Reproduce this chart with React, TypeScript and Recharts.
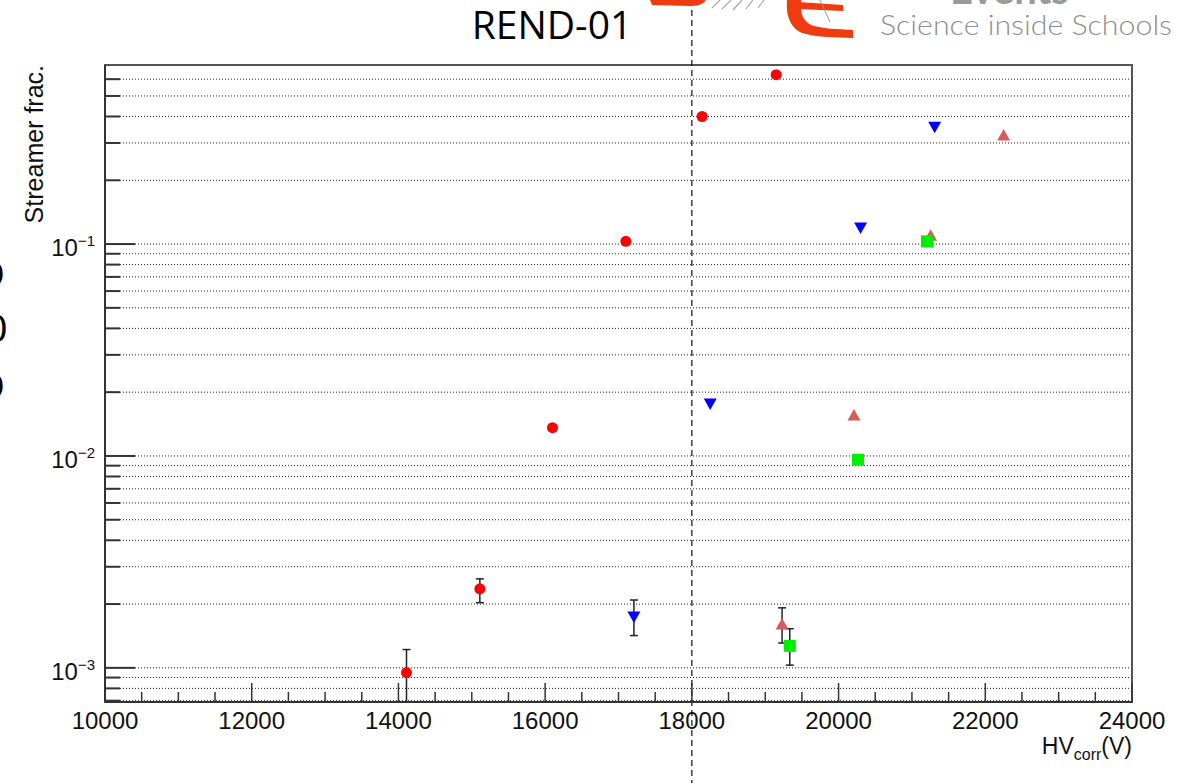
import React from "react";
import {
  CartesianGrid,
  ErrorBar,
  ReferenceArea,
  ReferenceLine,
  Scatter,
  ScatterChart,
  XAxis,
  YAxis,
} from "recharts";

// Streamer fraction vs corrected HV, one series per gas mixture / run
const redX = [14110, 15110, 16100, 17100, 18140, 19150];
const redY = [0.00095, 0.00236, 0.0136, 0.103, 0.4, 0.63];
const redErr: ([number, number] | null)[] = [
  [0.00026, 0.00027],
  [0.00033, 0.00027],
  null,
  null,
  null,
  null,
];

const blueX = [17210, 18250, 20300, 21310];
const blueY = [0.00174, 0.0176, 0.119, 0.356];
const blueErr: ([number, number] | null)[] = [[0.00032, 0.00035], null, null, null];

const triX = [19230, 20210, 21255, 22250];
const triY = [0.00161, 0.0156, 0.11, 0.327];
const triErr: ([number, number] | null)[] = [[0.0003, 0.00031], null, null, null];

const greenX = [19335, 20265, 21205];
const greenY = [0.00127, 0.0096, 0.103];
const greenErr: ([number, number] | null)[] = [[0.00024, 0.00026], [0.0004, 0.0003], null];

const xMajor = [10000, 12000, 14000, 16000, 18000, 20000, 22000, 24000];
const xDomain: [number, number] = [10000, 24000];
const yDomain: [number, number] = [0.00069, 0.7];
const decades = [0.0001, 0.001, 0.01, 0.1];
const markerLine = 18000;

const W = 1190;
const H = 783;

const xTicks: number[] = [];
for (let v = xDomain[0]; v <= xDomain[1]; v += 500) xTicks.push(v);

const yTicks: number[] = [];
decades.forEach((d) => {
  for (let m = 1; m <= 9; m++) {
    const v = +(d * m).toPrecision(3);
    if (v > yDomain[0] && v < yDomain[1]) yTicks.push(v);
  }
});

const toRows = (xs: number[], ys: number[], errs: ([number, number] | null)[]) =>
  xs.map((x, i) => ({ x, y: ys[i], err: errs[i] ?? undefined }));

const FONT = "'Liberation Sans', Arial, sans-serif";
const AXIS = "#333";

const isDecade = (v: number) => Math.abs(Math.log10(v) - Math.round(Math.log10(v))) < 1e-6;

const XTick = (props: any) => {
  const { x, y, payload } = props;
  const v = payload.value as number;
  const major = xMajor.includes(v);
  return (
    <g>
      <line x1={x} x2={x} y1={y} y2={y - (major ? 19 : 10)} stroke={AXIS} strokeWidth={1.5} />
      {major && (
        <text x={x} y={y + 27} textAnchor="middle" fontFamily={FONT} fontSize={24} fill="#111">
          {v}
        </text>
      )}
    </g>
  );
};

const YTick = (props: any) => {
  const { x, y, payload } = props;
  const v = payload.value as number;
  const major = isDecade(v);
  const exp = Math.round(Math.log10(v));
  return (
    <g>
      <line x1={x} x2={x + (major ? 30 : 15)} y1={y} y2={y} stroke={AXIS} strokeWidth={2} />
      {major && (
        <text x={x - 10} y={y + 12} textAnchor="end" fontFamily={FONT} fontSize={24} fill="#111">
          10
          <tspan dy={-10} fontSize={15}>
            {"\u2212" + -exp}
          </tspan>
        </text>
      )}
    </g>
  );
};

const Dot = (p: any) => <circle cx={p.cx} cy={p.cy} r={5.5} fill="#ff0000" />;
const TriDown = (p: any) => (
  <path d={`M${p.cx - 6.5},${p.cy - 5.5} L${p.cx + 6.5},${p.cy - 5.5} L${p.cx},${p.cy + 6} Z`} fill="#0000ff" />
);
const TriUp = (p: any) => (
  <path d={`M${p.cx - 6.5},${p.cy + 5.5} L${p.cx + 6.5},${p.cy + 5.5} L${p.cx},${p.cy - 6} Z`} fill="#d65c5c" />
);
const Square = (p: any) => (
  <rect x={p.cx - 6} y={p.cy - 6} width={12} height={12} fill="#00ee00" />
);

const FullHeightDash = (p: any) => (
  <line x1={p.x1} x2={p.x1} y1={0} y2={H} stroke="#111" strokeWidth={1.2} strokeDasharray="6 4" />
);

const errProps = { dataKey: "err", direction: "y" as const, width: 4, stroke: "#222", strokeWidth: 1.5 };

export default function App() {
  return (
    <div style={{ position: "fixed", left: 0, top: 0, width: W, height: H, background: "#fff" }}>
      <ScatterChart width={W} height={H} margin={{ top: 65, right: 58, bottom: 80, left: 104 }}>
        <CartesianGrid vertical={false} stroke="#222" strokeDasharray="1 2" />
        <XAxis
          type="number"
          dataKey="x"
          domain={xDomain}
          ticks={xTicks}
          allowDataOverflow
          interval={0}
          height={1}
          tickSize={0}
          tickMargin={0}
          tick={<XTick />}
          axisLine={{ stroke: AXIS, strokeWidth: 2 }}
        />
        <YAxis
          type="number"
          dataKey="y"
          scale="log"
          domain={yDomain}
          ticks={yTicks}
          allowDataOverflow
          interval={0}
          width={1}
          tickSize={0}
          tickMargin={0}
          tick={<YTick />}
          axisLine={{ stroke: AXIS, strokeWidth: 2 }}
        />
        <ReferenceArea
          x1={xDomain[0]}
          x2={xDomain[1]}
          y1={yDomain[0]}
          y2={yDomain[1]}
          fill="none"
          fillOpacity={0}
          stroke="#555"
          strokeWidth={2}
          ifOverflow="visible"
        />
        <Scatter data={toRows(redX, redY, redErr)} shape={Dot} isAnimationActive={false}>
          <ErrorBar {...errProps} />
        </Scatter>
        <Scatter data={toRows(blueX, blueY, blueErr)} shape={TriDown} isAnimationActive={false}>
          <ErrorBar {...errProps} />
        </Scatter>
        <Scatter data={toRows(triX, triY, triErr)} shape={TriUp} isAnimationActive={false}>
          <ErrorBar {...errProps} />
        </Scatter>
        <Scatter data={toRows(greenX, greenY, greenErr)} shape={Square} isAnimationActive={false}>
          <ErrorBar {...errProps} />
        </Scatter>
        <ReferenceLine x={markerLine} shape={FullHeightDash} ifOverflow="visible" />
      </ScatterChart>

      <svg
        width={W}
        height={H}
        style={{ position: "absolute", left: 0, top: 0, pointerEvents: "none" }}
      >
        {/* axis titles */}
        <text
          transform="translate(43,65) rotate(-90)"
          textAnchor="end"
          fontFamily={FONT}
          fontSize={25}
          fill="#111"
        >
          Streamer frac.
        </text>
        <text x={1132} y={754} textAnchor="end" fontFamily={FONT} fontSize={23} fill="#111">
          HV
          <tspan dy={6} fontSize={16}>
            corr
          </tspan>
          <tspan dy={-6}>(V)</tspan>
        </text>

        {/* header */}
        <text x={552} y={39} textAnchor="middle" fontFamily="'Open Sans', sans-serif" fontSize={39} fill="#000">
          REND-01
        </text>

        {/* school logo strip */}
        <path d="M650,0 L706,0 C704,3 700,6 690,6 C676,6 664,5 652,5 Z" fill="#f03a10" />
        <path d="M712,8 L720,0 M722,9 L731,0 M733,10 L742,0 M746,9 L753,0 M758,8 L764,0" stroke="#aaa" strokeWidth={1.2} />
        <path
          d="M787,0 C786,14 789,27 802,33 C818,38 836,37 853,38 L853,30 C838,29 822,29 811,25 C802,20 800,12 801,0 Z"
          fill="#f03a10"
        />
        <path d="M798,2 L843,5 L843,11 L798,9 Z" fill="#f03a10" />
        <path d="M820,0 L830,22" stroke="#999" strokeWidth={1} />
        <text x={950} y={4} fontFamily="Lato, sans-serif" fontWeight={700} fontSize={40} fill="#9a9a9a">
          Events
        </text>
        <text
          x={880}
          y={35}
          textLength={292}
          lengthAdjust="spacingAndGlyphs"
          fontFamily="Lato, sans-serif"
          fontWeight={300}
          fontSize={28}
          fill="#8f8f8f"
        >
          Science inside Schools
        </text>

        {/* cropped glyphs at the left margin */}
        <text x={-14} y={285} fontFamily={FONT} fontSize={32} fill="#000">0</text>
        <text x={-14} y={342} fontFamily={FONT} fontSize={38} fill="#000">0</text>
        <text x={-14} y={397} fontFamily={FONT} fontSize={32} fill="#000">0</text>
      </svg>
    </div>
  );
}
